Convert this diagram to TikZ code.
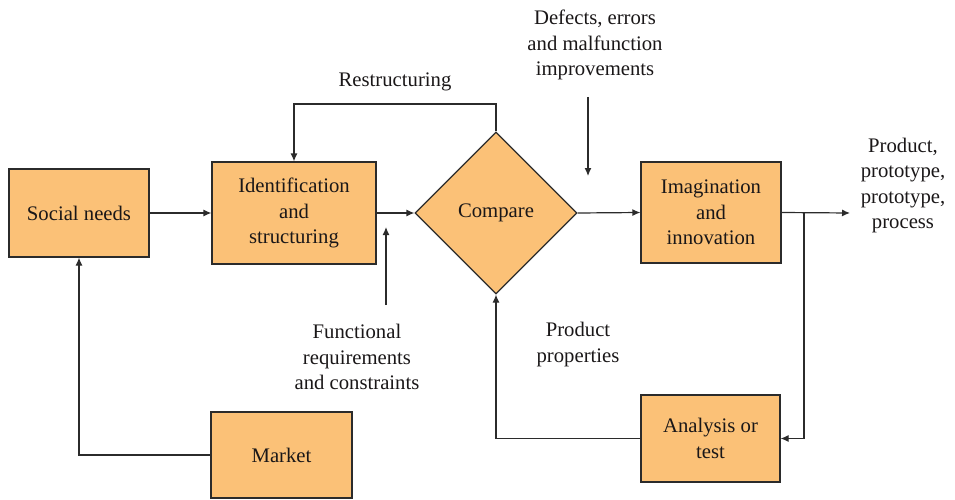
\documentclass[tikz,border=0pt]{standalone}
\usepackage{fontspec}
\setmainfont{Liberation Serif}
\usetikzlibrary{shapes.geometric,arrows.meta}
\definecolor{boxfill}{HTML}{FBC177}
\definecolor{linecol}{HTML}{2B2B2B}
\definecolor{txtcol}{HTML}{1A1718}
\tikzset{
  every node/.style={text=txtcol, font=\fontsize{20.7}{25.5}\selectfont, align=center},
  procbox/.style={draw=linecol, line width=1.2pt, fill=boxfill, rectangle, inner sep=0pt},
  decbox/.style={draw=linecol, line width=1.2pt, fill=boxfill, diamond, shape aspect=1, inner sep=0pt, minimum size=162pt},
  conn/.style={draw=linecol, line width=1.2pt},
  arr/.style={conn, -{Latex[length=8pt,width=7pt]}},
  lbl/.style={inner sep=0pt}
}
\begin{document}
\begin{tikzpicture}[x=1pt,y=-1pt]
\useasboundingbox (0,0) rectangle (955,500);
% boxes
\node[procbox, minimum width=140pt, minimum height=88pt] (social) at (79,213) {Social needs};
\node[procbox, minimum width=164pt, minimum height=102pt] (ident) at (294,213) {Identification\\and\\structuring};
\node[decbox] (compare) at (496,213) {Compare};
\node[procbox, minimum width=140pt, minimum height=101pt] (imag) at (711,212.5) {Imagination\\and\\innovation};
\node[procbox, minimum width=139pt, minimum height=87pt] (analysis) at (710.5,438.5) {Analysis or\\test};
\node[procbox, minimum width=141pt, minimum height=86pt] (market) at (281.5,455) {Market};
% labels
\node[lbl] (restr) at (395,82) {Restructuring};
\node[lbl] (defects) at (595,45) {Defects, errors\\and malfunction\\improvements};
\node[lbl] (func) at (357,357) {Functional\\requirements\\and constraints};
\node[lbl] (prop) at (578,344.5) {Product\\properties};
\node[lbl] (prod) at (903,185.5) {Product,\\prototype,\\prototype,\\process};
% coordinates
\coordinate (rtop) at (496,104);
\coordinate (d1) at (588,97);
\coordinate (d2) at (588,176);
\coordinate (f1) at (386,305);
\coordinate (f2) at (386,227);
\coordinate (out) at (850,213);
\coordinate (br) at (804,213);
% connectors
\draw[arr] (social.east) -- (ident.west);
\draw[arr] (ident.east) -- (compare.west);
\draw[arr] (compare.east) -- (imag.west);
\draw[arr] (imag.east) -- (out);
\draw[arr] (br) |- (analysis.east);
\draw[arr] (analysis.west) -| (compare.south);
\draw[arr] (market.west) -| (social.south);
\draw[arr] (compare.north) -- (rtop) -| (ident.north);
\draw[arr] (d1) -- (d2);
\draw[arr] (f1) -- (f2);
\end{tikzpicture}
\end{document}
